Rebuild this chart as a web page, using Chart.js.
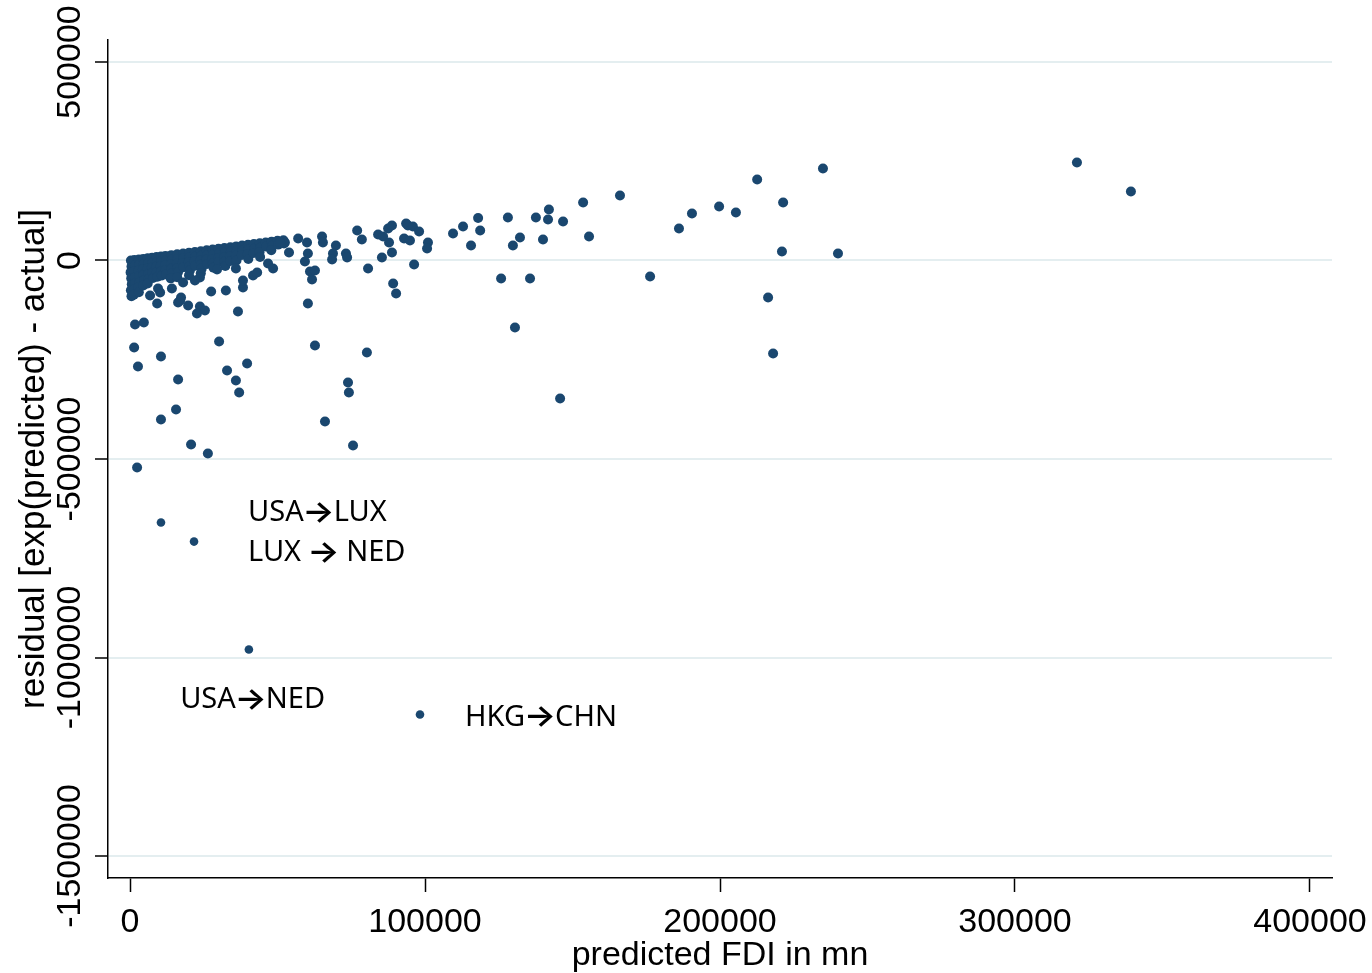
<!DOCTYPE html>
<html>
<head>
<meta charset="utf-8">
<title>residual vs predicted FDI</title>
<script src="https://cdn.jsdelivr.net/npm/chart.js@4.4.1/dist/chart.umd.min.js"></script>
<style>
  html, body { margin: 0; padding: 0; background: #fff; }
  #wrap { width: 1372px; height: 973px; }
</style>
</head>
<body>
<div id="wrap"><canvas id="chart" width="1372" height="973"></canvas></div>
<script>
// tick labels
const xTicks = [0, 100000, 200000, 300000, 400000];
const yTicks = [500000, 0, -500000, -1000000, -1500000];

// predicted FDI (x) and residual (y)
const predictedFDI = [
  300, 500, 200, 400, 600, 300, 500,
  1500, 1700, 1400, 1600, 1800, 1500, 1300,
  3000, 3200, 2900, 3100, 3300, 2800, 3000,
  4500, 4700, 4400, 4600, 4800, 4500,
  6000, 6200, 5900, 6100, 6300, 6000,
  7500, 7700, 7400, 7600, 7800,
  9000, 9200, 8900, 9100, 9300,
  10500, 10700, 10400, 10600, 10800,
  12000, 12200, 11900, 12100, 12300,
  14000, 14200, 13900, 14100, 14300, 13800,
  16000, 16200, 15900, 16100, 16300, 16000,
  18000, 18200, 17900, 18100,
  20000, 20200, 19900, 20100, 20300, 20000,
  22000, 22200, 21900, 22100,
  24000, 24200, 23900, 24100, 24300, 24000,
  26000, 26200, 25900, 26100,
  28000, 28200, 27900, 28100, 28300,
  30000, 30200, 29900, 30100,
  32000, 32200, 31900, 32100, 32300,
  34000, 34200, 33900, 34100,
  36000, 36200, 35900, 36100,
  38000, 38200, 37900,
  40000, 40200, 39900, 40100,
  42000, 42200, 41900,
  44000, 44200, 43900, 44100,
  46000, 46200,
  48000, 48200, 47900,
  50000, 50200,
  52000, 52200,
  // scattered below the band
  1700, 4700, 1400, 2700, 10500, 16300, 15600, 10500, 20700, 26400,
  2400, 30200, 32900, 35900, 37000, 39700, 36600, 27500, 32500, 38300,
  9200, 19700, 23700, 25400, 22700, 17300, 16300, 60300, 6800, 10200,
  62700, 80300, 73900, 74200, 66100, 75600, 9500, 14200, 17000, 29500,
  38300, 41700, 43100, 35900, 46800, 48500, 23700, 22000, 18000,
  // middle range
  52500, 50900, 53900, 57000, 60000, 60300, 59300, 61000, 62700, 61700,
  65100, 65400, 69800, 68800, 68500, 73200, 73600, 77000, 78600, 80700,
  84100, 85800, 87500, 88800, 87800, 88800, 85400, 89200, 90200, 93600,
  94200, 95900, 98000, 92900, 94900, 96300, 101000, 100700, 109500, 112900,
  115600, 118000, 118700, 128100, 129800, 132200, 137600, 142000, 141700, 140000,
  146800, 153600, 155600, 166100, 186100, 190500, 199700, 205400, 212600, 221400,
  221000, 234900, 240000, 125800, 135600, 130500, 176300, 216300, 218000, 145800,
  321000, 339300
];
const residual = [
  0, -15000, -30000, -45000, -60000, -75000, -90000,
  1000, -12000, -27000, -42000, -57000, -72000, -86000,
  2500, -10000, -25000, -40000, -55000, -68000, -80000,
  4000, -8000, -22000, -36000, -50000, -63000,
  5500, -6000, -20000, -34000, -47000, -58000,
  7000, -5000, -18000, -31000, -44000,
  8500, -3000, -16000, -29000, -41000,
  10000, -1000, -14000, -27000, -38000,
  11500, 0, -12000, -24000, -35000,
  13500, 2000, -10000, -21000, -32000, -45000,
  15500, 4000, -8000, -19000, -29000, -42000,
  17500, 6000, -6000, -17000,
  19500, 8000, -4000, -15000, -25000, -37000,
  21500, 10000, -2000, -13000,
  23500, 12000, 0, -11000, -21000, -32000,
  25500, 14000, 2000, -9000,
  27500, 16000, 4000, -7000, -18000,
  29500, 18000, 6000, -4000,
  31500, 20000, 8000, -3000, -14000,
  33500, 22000, 10000, -1000,
  35500, 24000, 12000, 0,
  37500, 26000, 14000,
  39500, 28000, 16000, 4000,
  41500, 30000, 19000,
  43500, 32000, 21000, 9000,
  45500, 35000,
  47500, 37000, 26000,
  49500, 40000,
  51000, 43000,
  // scattered below the band
  -161200, -156200, -219200, -267000, -241800, -299800, -375300, -400500, -463500, -486200,
  -521400, -204000, -277100, -302300, -332500, -259500, -128500, -78100, -75600, -68000,
  -108300, -113400, -115900, -126000, -133500, -93200, -105800, -108300, -88200, -80600,
  -214100, -231700, -307300, -332500, -405600, -466000, -70500, -70500, -100800, -22700,
  -50400, -37800, -30200, -20200, -7600, -20200, -42800, -50400, -55400,
  // middle range
  45300, 45300, 20200, 55400, 45300, 17600, -2500, -27700, -25200, -47900,
  60500, 45300, 37800, 17600, 2500, 17600, 7600, 75600, 52900, -20200,
  65500, 60500, 80600, 88200, 45300, 20200, 7600, -57900, -83100, 93200,
  88200, 85600, 73100, 55400, 50400, -10100, 45300, 30200, 68000, 85600,
  37800, 107000, 75600, 108300, 37800, 57900, 108300, 128500, 103300, 52900,
  98200, 146100, 60500, 163700, 80600, 118400, 136000, 120900, 204000, 146100,
  22700, 231700, 17600, -45300, -45300, -168800, -40300, -93200, -234300, -347600,
  246900, 173800
];

// the four labelled outliers
const labelledPredicted = [10500, 21700, 40300, 98300];
const labelledResidual = [-660000, -708000, -980000, -1143600];

// annotation texts and where they sit (data units, left edge / middle)
const noteTexts = ['USA\u2192LUX', 'LUX \u2192 NED', 'USA\u2192NED', 'HKG\u2192CHN'];
const notePredicted = [40000, 40000, 17000, 113600];
const noteResidual = [-635000, -736000, -1106000, -1151000];

const NAVY = '#1a476f';
const AXIS_FONT = '"Liberation Sans", Arial, sans-serif';
const NOTE_FONT = '29px "Noto Sans", "Open Sans", sans-serif';
const ARROW_FONT = '600 30px Inter, "DejaVu Sans", sans-serif';

// draws "A→B" with a bigger arrow glyph than Noto Sans gives
function drawNote(ctx, text, x, y) {
  const parts = text.split('\u2192');
  ctx.font = NOTE_FONT;
  ctx.fillText(parts[0], x, y);
  x += ctx.measureText(parts[0]).width;
  if (parts.length > 1) {
    ctx.font = ARROW_FONT;
    const m = ctx.measureText('\u2192');
    const inkW = m.actualBoundingBoxRight + m.actualBoundingBoxLeft;
    const sx = 26 / inkW;
    ctx.save();
    ctx.translate(x + 2 + m.actualBoundingBoxLeft * sx, y);
    ctx.scale(sx, 1);
    ctx.fillText('\u2192', 0, 0);
    ctx.restore();
    x += 30;
    ctx.font = NOTE_FONT;
    ctx.fillText(parts[1], x, y);
  }
}

// tick labels (y ones are rotated) + the text notes
const textPlugin = {
  id: 'textPlugin',
  afterDraw(chart) {
    const { ctx, scales: { x, y } } = chart;
    ctx.save();
    ctx.fillStyle = '#000';
    ctx.font = '34px ' + AXIS_FONT;
    ctx.textAlign = 'center';
    ctx.textBaseline = 'alphabetic';
    xTicks.forEach(v => ctx.fillText(String(v), x.getPixelForValue(v), 932));
    yTicks.forEach(v => {
      ctx.save();
      ctx.translate(80, y.getPixelForValue(v));
      ctx.rotate(-Math.PI / 2);
      ctx.fillText(String(v), 0, 0);
      ctx.restore();
    });

    ctx.textAlign = 'left';
    ctx.textBaseline = 'middle';
    noteTexts.forEach((t, i) => {
      drawNote(ctx, t, x.getPixelForValue(notePredicted[i]), y.getPixelForValue(noteResidual[i]));
    });
    ctx.restore();
  }
};

const whiteBg = {
  id: 'whiteBg',
  beforeDraw(chart) {
    const ctx = chart.ctx;
    ctx.save();
    ctx.fillStyle = '#fff';
    ctx.fillRect(0, 0, chart.width, chart.height);
    ctx.restore();
  }
};

new Chart(document.getElementById('chart'), {
  type: 'scatter',
  data: {
    datasets: [
      {
        data: predictedFDI.map((v, i) => ({ x: v, y: residual[i] })),
        pointRadius: 5,
        pointBorderWidth: 0,
        pointBackgroundColor: NAVY
      },
      {
        data: labelledPredicted.map((v, i) => ({ x: v, y: labelledResidual[i] })),
        pointRadius: 4.3,
        pointBorderWidth: 0,
        pointBackgroundColor: NAVY
      }
    ]
  },
  options: {
    responsive: false,
    animation: false,
    devicePixelRatio: 1,
    layout: { padding: { top: 40, right: 40, left: 0, bottom: 0 } },
    plugins: { legend: { display: false }, tooltip: { enabled: false } },
    scales: {
      x: {
        type: 'linear',
        min: -7460,
        max: 407460,
        afterBuildTicks: s => { s.ticks = xTicks.map(v => ({ value: v })); },
        afterFit: s => { s.height = 95; s.paddingLeft = 0; s.paddingRight = 0; },
        ticks: { display: false },
        grid: { drawOnChartArea: false, drawTicks: true, tickLength: 14, tickColor: '#000', tickWidth: 1.5 },
        border: { color: '#000', width: 1.5 },
        title: {
          display: true,
          text: 'predicted FDI in mn',
          color: '#000',
          font: { family: AXIS_FONT, size: 34, lineHeight: 1.0 },
          padding: { top: 0, bottom: 0 }
        }
      },
      y: {
        type: 'linear',
        min: -1555400,
        max: 555400,
        afterBuildTicks: s => { s.ticks = yTicks.map(v => ({ value: v })); },
        afterFit: s => { s.width = 108; s.paddingTop = 0; s.paddingBottom = 0; },
        ticks: { display: false },
        grid: { color: '#e4eef0', lineWidth: 2, drawTicks: true, tickLength: 13, tickColor: '#000', tickWidth: 1.5 },
        border: { color: '#000', width: 1.5 },
        title: {
          display: true,
          text: 'residual [exp(predicted) - actual]',
          color: '#000',
          font: { family: AXIS_FONT, size: 35, lineHeight: 1.2 },
          padding: { top: 13, bottom: 0 }
        }
      }
    }
  },
  plugins: [whiteBg, textPlugin]
});
</script>
</body>
</html>
